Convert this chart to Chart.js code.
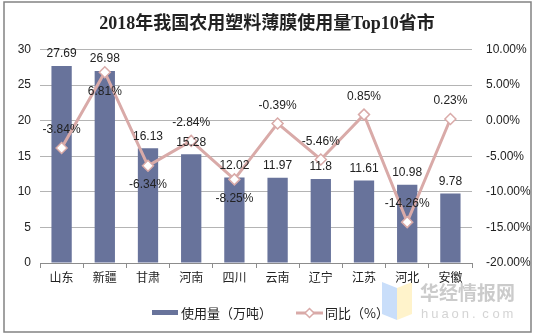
<!DOCTYPE html>
<html>
<head>
<meta charset="utf-8">
<script src="https://cdn.jsdelivr.net/npm/chart.js@4/dist/chart.umd.min.js"></script>
<style>
html,body{margin:0;padding:0;background:#fff;}
canvas{display:block;}
</style>
</head>
<body>
<canvas id="c" width="535" height="335"></canvas>
<script>
const categories = ['山东','新疆','甘肃','河南','四川','云南','辽宁','江苏','河北','安徽'];
const usage = [27.69, 26.98, 16.13, 15.28, 12.02, 11.97, 11.8, 11.61, 10.98, 9.78];
const yoy = [-3.84, 6.81, -6.34, -2.84, -8.25, -0.39, -5.46, 0.85, -14.26, 0.23];
const leftTicks = [0, 5, 10, 15, 20, 25, 30];
const rightTicks = [-20, -15, -10, -5, 0, 5, 10];
const titleText = '2018年我国农用塑料薄膜使用量Top10省市';
const seriesNames = ['使用量（万吨）', '同比（%）'];

const BAR_COLOR = '#68739b';
const LINE_COLOR = '#d9aaa8';
const TXT = '#222';
const LATIN = '"Liberation Sans", Arial, "Noto Sans CJK SC", sans-serif';
const CJK = '"Noto Sans CJK SC", "Liberation Sans", sans-serif';

// label placement for the line series (style only)
const linePlace = ['above','below','below','above','below','above','above','above','above','above'];

const decor = {
  id: 'decor',
  beforeDraw(chart) {
    const ctx = chart.ctx;
    ctx.save();
    ctx.fillStyle = '#fff';
    ctx.fillRect(0, 0, chart.width, chart.height);
    // watermark
    ctx.globalAlpha = 0.55;
    ctx.fillStyle = '#9cc3f5';
    ctx.beginPath();
    ctx.moveTo(382, 282); ctx.lineTo(397, 288); ctx.lineTo(397, 320); ctx.lineTo(382, 314); ctx.closePath(); ctx.fill();
    ctx.fillStyle = '#ffeaa0';
    ctx.beginPath();
    ctx.moveTo(397, 288); ctx.lineTo(412, 282); ctx.lineTo(412, 314); ctx.lineTo(397, 320); ctx.closePath(); ctx.fill();
    ctx.globalAlpha = 1;
    ctx.fillStyle = 'rgba(160,160,160,0.55)';
    ctx.font = 'bold 19px ' + CJK;
    ctx.textBaseline = 'middle';
    ctx.textAlign = 'left';
    ctx.fillText('华经情报网', 420, 293);
    ctx.font = '13px ' + LATIN;
    ctx.fillStyle = 'rgba(170,170,170,0.5)';
    const w = 'huaon.com';
    let x = 421;
    for (const ch of w) { ctx.fillText(ch, x, 314); x += 10.2; }
    ctx.restore();
  },
  afterDraw(chart) {
    const ctx = chart.ctx;
    ctx.save();
    // frame
    ctx.strokeStyle = '#828282';
    ctx.lineWidth = 1.5;
    ctx.strokeRect(4, 2, 527, 330);
    // title
    ctx.fillStyle = TXT;
    ctx.font = 'bold 18px "Liberation Serif", "Noto Sans CJK SC", serif';
    ctx.textAlign = 'center';
    ctx.textBaseline = 'middle';
    ctx.fillText(titleText, 267, 24);
    // legend
    ctx.fillStyle = BAR_COLOR;
    ctx.fillRect(152, 310, 26, 5);
    ctx.fillStyle = TXT;
    ctx.font = '13px ' + CJK;
    ctx.textAlign = 'left';
    ctx.fillText(seriesNames[0], 181, 313);
    ctx.strokeStyle = LINE_COLOR;
    ctx.lineWidth = 3;
    ctx.beginPath(); ctx.moveTo(296, 313); ctx.lineTo(323, 313); ctx.stroke();
    ctx.fillStyle = '#fff';
    ctx.lineWidth = 1.5;
    ctx.beginPath();
    ctx.moveTo(309.5, 308.5); ctx.lineTo(314, 313); ctx.lineTo(309.5, 317.5); ctx.lineTo(305, 313); ctx.closePath();
    ctx.fill(); ctx.stroke();
    ctx.fillStyle = TXT;
    ctx.fillText(seriesNames[1], 325, 313);
    ctx.restore();
  },
  afterDatasetsDraw(chart) {
    const ctx = chart.ctx;
    ctx.save();
    ctx.fillStyle = TXT;
    ctx.font = '12px ' + LATIN;
    ctx.textAlign = 'center';
    ctx.textBaseline = 'middle';
    const bars = chart.getDatasetMeta(0).data;
    bars.forEach((b, i) => {
      ctx.fillText(String(usage[i]), b.x, b.y - 12);
    });
    const pts = chart.getDatasetMeta(1).data;
    pts.forEach((p, i) => {
      const dy = linePlace[i] === 'above' ? -18 : 19;
      ctx.fillText(yoy[i].toFixed(2) + '%', p.x, p.y + dy);
    });
    ctx.restore();
  }
};

new Chart(document.getElementById('c'), {
  data: {
    labels: categories,
    datasets: [
      {
        type: 'bar',
        label: seriesNames[0],
        data: usage,
        backgroundColor: BAR_COLOR,
        barPercentage: 0.47,
        categoryPercentage: 1,
        yAxisID: 'y',
        order: 2
      },
      {
        type: 'line',
        label: seriesNames[1],
        data: yoy,
        borderColor: LINE_COLOR,
        borderWidth: 3,
        tension: 0,
        pointStyle: 'rectRot',
        pointRadius: 5.5,
        pointBackgroundColor: '#fff',
        pointBorderColor: LINE_COLOR,
        pointBorderWidth: 1.5,
        yAxisID: 'y1',
        order: 1
      }
    ]
  },
  options: {
    responsive: false,
    animation: false,
    devicePixelRatio: 1,
    layout: { padding: { top: 49.5, left: 0, right: 0, bottom: 0 } },
    plugins: {
      legend: { display: false },
      title: { display: false },
      tooltip: { enabled: false }
    },
    scales: {
      x: {
        offset: true,
        grid: { drawOnChartArea: false, drawTicks: true, tickLength: 5, color: '#8c8c8c', offset: true },
        border: { display: true, color: '#8c8c8c', width: 1 },
        ticks: { color: TXT, font: { family: CJK, size: 12 }, padding: 2, maxRotation: 0 },
        afterFit(s) { s.height = 72; }
      },
      y: {
        position: 'left',
        min: 0, max: 30,
        afterBuildTicks(s) { s.ticks = leftTicks.map(v => ({ value: v })); },
        grid: { color: '#b4b4b4', drawTicks: false, lineWidth: 1 },
        border: { display: false },
        ticks: { color: TXT, font: { family: LATIN, size: 12 }, padding: 9 },
        afterFit(s) { s.width = 40; }
      },
      y1: {
        position: 'right',
        min: -20, max: 10,
        afterBuildTicks(s) { s.ticks = rightTicks.map(v => ({ value: v })); },
        grid: { drawOnChartArea: false, drawTicks: false },
        border: { display: false },
        ticks: { color: TXT, font: { family: LATIN, size: 12 }, padding: 14, callback: v => Number(v).toFixed(2) + '%' },
        afterFit(s) { s.width = 63; }
      }
    }
  },
  plugins: [decor]
});
</script>
</body>
</html>
